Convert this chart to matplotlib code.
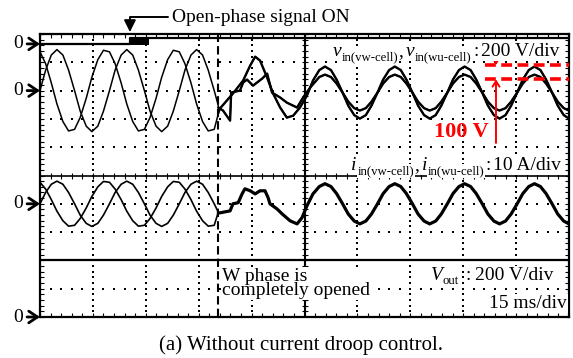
import numpy as np
import matplotlib
matplotlib.use("Agg")
import matplotlib.pyplot as plt

plt.rcParams['font.family'] = ['Liberation Serif', 'DejaVu Serif']

# ---------------- scope settings ----------------
TIME_PER_DIV = 15      # ms/div
V_PER_DIV = 200        # V/div (input cell voltages)
I_PER_DIV = 10         # A/div
VOUT_PER_DIV = 200     # V/div
ZERO_SIG, ZERO_VIN, ZERO_IIN, ZERO_VOUT = 9.65, 8.0, 4.0, 0.0   # zero levels (div)
T_OPEN = 50.5          # ms, W phase completely opened

# ---------------- open-phase signal (div above its zero) ----------------
SIG_T = [0, 25.5, 25.5, 150]
SIG_LEVEL = [0, 0, 0.2, 0.2]
SIG_BURST_T = [25.5, 30.9]

# ---------------- input voltages, before opening ----------------
T_PRE = [0.0, 1.6, 3.2, 4.8, 6.5, 8.1, 9.8, 11.4, 13.1, 14.7, 16.4, 18.0,
         19.7, 21.3, 23.0, 24.6, 26.3, 27.9, 29.6, 31.2, 32.9, 34.5, 36.2, 37.8,
         39.5, 41.1, 42.8, 44.4, 46.1, 47.7, 49.4, 50.5]
VW_PRE = [0, 145, 251, 290, 251, 145, 0, -145, -251, -290, -251, -145,
          0, 145, 251, 290, 251, 145, 0, -145, -251, -290, -251, -145,
          0, 145, 251, 290, 251, 145, 0, -100]
WU_PRE = [274, 190, 55, -94, -219, -285, -274, -190, -55, 94, 219, 285,
          274, 190, 55, -94, -219, -285, -274, -190, -55, 94, 219, 285,
          274, 190, 55, -94, -219, -285, -274, -170]

# ---------------- input currents, before opening ----------------
IVW_PRE = [0, 4.0, 6.9, 8.0, 6.9, 4.0, 0, -4.0, -6.9, -8.0, -6.9, -4.0,
           0, 4.0, 6.9, 8.0, 6.9, 4.0, 0, -4.0, -6.9, -8.0, -6.9, -4.0,
           0, 4.0, 6.9, 8.0, 6.9, 4.0, 0, -2.8]
IWU_PRE = [7.6, 5.2, 1.5, -2.6, -6.0, -7.9, -7.6, -5.2, -1.5, 2.6, 6.0, 7.9,
           7.6, 5.2, 1.5, -2.6, -6.0, -7.9, -7.6, -5.2, -1.5, 2.6, 6.0, 7.9,
           7.6, 5.2, 1.5, -2.6, -6.0, -7.9, -7.6, -3.2]

# ---------------- transient after opening ----------------
T_TR_WU = [50.6, 51.0, 54.7, 57.6, 59.6, 61.0, 62.4, 64.4, 66.1, 68.1, 70.0,
           71.8, 73.7, 75.7, 77.4]
V_TR_WU = [-155, -127, -21, 71, 177, 240, 212, 92, -21, -120, -191,
           -177, -120, -35, 71]
T_TR_VW = [50.6, 51.9, 53.9, 54.2, 56.7, 57.6, 58.7, 60.4, 63.0, 64.4, 65.8,
           68.1, 70.0, 72.9, 74.6, 76.6]
V_TR_VW = [-120, -141, -212, -14, 0, 57, 78, 35, 85, 120, -14,
           -49, -85, -120, -49, 21]
T_TR_I = [50.6, 51.0, 53.9, 54.7, 56.2, 57.3, 58.1, 59.6, 61.0, 62.4, 63.8,
          64.7, 65.2, 67.2, 68.6, 70.9, 72.9, 74.3, 75.7, 77.4]
I_TR = [-3.2, -3.2, -2.5, 0, 0.4, 3.5, 5.3, 4.6, 3.5, 4.6, 4.6,
        2.1, 0, -1.8, -3.5, -6.0, -7.1, -4.9, -0.7, 3.5]

# ---------------- steady state after opening ----------------
T_POST = [79.2, 80.8, 82.5, 84.1, 85.8, 87.4, 89.1, 90.7, 92.4, 94.0, 95.7, 97.3,
          99.0, 100.6, 102.3, 103.9, 105.6, 107.2, 108.9, 110.5, 112.2, 113.8, 115.5,
          117.1, 118.8, 120.4, 122.1, 123.7, 125.4, 127.0, 128.7, 130.3, 132.0,
          133.6, 135.3, 136.9, 138.6, 140.2, 141.9, 143.5, 145.2, 146.8, 148.5, 150.0]
V_BIG_POST = [145, 170, 145, 78, -14, -106, -173, -198, -173, -106, -14, 78,
              145, 170, 145, 78, -14, -106, -173, -198, -173, -106, -14, 78,
              145, 170, 145, 78, -14, -106, -173, -198, -173, -106, -14, 78,
              145, 170, 145, 78, -14, -106, -173, -198]
V_SMALL_POST = [96, 113, 96, 50, -14, -78, -124, -141, -124, -78, -14, 50,
                96, 113, 96, 50, -14, -78, -124, -141, -124, -78, -14, 50,
                96, 113, 96, 50, -14, -78, -124, -141, -124, -78, -14, 50,
                96, 113, 96, 50, -14, -78, -124, -141]
I_POST = [6.1, 7.1, 6.1, 3.6, 0, -3.6, -6.1, -7.1, -6.1, -3.6, 0, 3.6,
          6.1, 7.1, 6.1, 3.6, 0, -3.6, -6.1, -7.1, -6.1, -3.6, 0, 3.6,
          6.1, 7.1, 6.1, 3.6, 0, -3.6, -6.1, -7.1, -6.1, -3.6, 0, 3.6,
          6.1, 7.1, 6.1, 3.6, 0, -3.6, -6.1, -7.1]

# ---------------- output voltage ----------------
VOUT_T = [0, 150]
VOUT = [400, 400]

# ---------------- annotation values ----------------
DIFF_LEVELS = [180, 80]     # V, red dashed lines (100 V difference)
DIFF_T = [126.2, 150]
DIFF_ARROW_T = 129.3

W, H = 573, 358
# =====================================================
fig = plt.figure(figsize=(W / 100, H / 100), dpi=100)
ax = fig.add_axes([40 / W, 1 - 317 / H, 529 / W, 283 / H])
ax.set_xlim(0, 10 * TIME_PER_DIV)
ax.set_ylim(0, 10)

# graticule
minor_x = np.arange(0, 10 * TIME_PER_DIV + 0.01, TIME_PER_DIV / 5)
minor_y = np.arange(0, 10.001, 0.2)
ax.set_xticks(minor_x)
ax.set_yticks(minor_y)
ax.tick_params(direction='in', length=3, width=0.8, top=True, right=True,
               labelbottom=False, labelleft=False)
for s in ax.spines.values():
    s.set_linewidth(1.6)
for k in range(1, 10):
    if k == 5:
        continue
    ax.plot(minor_x, np.full_like(minor_x, k), ls='none', marker='s', ms=1.5,
            mew=0, color='k', zorder=1)
    ax.plot(np.full_like(minor_y, k * TIME_PER_DIV), minor_y, ls='none', marker='s',
            ms=1.5, mew=0, color='k', zorder=1)
ax.axhline(5, color='k', lw=1.2, zorder=1)
ax.axvline(5 * TIME_PER_DIV, color='k', lw=1.5, zorder=1)
ax.plot(minor_x, np.full_like(minor_x, 5), ls='none', marker='|', ms=5, mew=0.8,
        color='k', zorder=1)
ax.plot(np.full_like(minor_y, 5 * TIME_PER_DIV), minor_y, ls='none', marker='_', ms=5,
        mew=0.8, color='k', zorder=1)

# event line
ax.axvline(T_OPEN, color='k', lw=1.5, ls=(0, (4, 2)), zorder=2)

# open-phase signal
ax.plot(SIG_T, ZERO_SIG + np.array(SIG_LEVEL), color='k', lw=1.6, zorder=4)
ax.fill_between(SIG_BURST_T, ZERO_SIG - 0.03, ZERO_SIG + 0.22, color='k', lw=0, zorder=4)

# input voltages
t_vw = T_PRE + T_TR_VW + T_POST
v_vw = VW_PRE + V_TR_VW + V_SMALL_POST
t_wu = T_PRE + T_TR_WU + T_POST
v_wu = WU_PRE + V_TR_WU + V_BIG_POST
for t, v in ((t_vw, v_vw), (t_wu, v_wu)):
    ax.plot(t, ZERO_VIN + np.array(v) / V_PER_DIV, color='k', lw=1.1, zorder=4,
            solid_joinstyle='round')
ax.plot(T_TR_VW + T_POST, ZERO_VIN + np.array(V_TR_VW + V_SMALL_POST) / V_PER_DIV,
        color='k', lw=1.7, zorder=4)
ax.plot(T_TR_WU + T_POST, ZERO_VIN + np.array(V_TR_WU + V_BIG_POST) / V_PER_DIV,
        color='k', lw=1.7, zorder=4)

# input currents
ax.plot(T_PRE, ZERO_IIN + np.array(IVW_PRE) / I_PER_DIV, color='k', lw=1.2, zorder=4)
ax.plot(T_PRE, ZERO_IIN + np.array(IWU_PRE) / I_PER_DIV, color='k', lw=1.2, zorder=4)
ax.plot(T_TR_I + T_POST, ZERO_IIN + np.array(I_TR + I_POST) / I_PER_DIV,
        color='k', lw=2.3, zorder=4, solid_joinstyle='round')

# output voltage
ax.plot(VOUT_T, ZERO_VOUT + np.array(VOUT) / VOUT_PER_DIV, color='k', lw=1.6, zorder=4)

# zero markers
for z in (ZERO_SIG, ZERO_VIN, ZERO_IIN, ZERO_VOUT):
    ax.annotate('0', xy=(0, z), xycoords='data', xytext=(-22, 0),
                textcoords='offset pixels', ha='center', va='center', fontsize=14,
                annotation_clip=False,
                arrowprops=dict(arrowstyle='->,head_length=0.45,head_width=0.3',
                                lw=2, color='k', shrinkA=1, shrinkB=0))

# open-phase signal annotation
ax.annotate('Open-phase signal ON', xy=(25.5, 10.07), xycoords='data',
            xytext=(37.4, 10.6), textcoords='data', ha='left', va='center',
            fontsize=14, annotation_clip=False,
            arrowprops=dict(arrowstyle='-|>,head_length=0.5,head_width=0.25',
                            connectionstyle='angle,angleA=0,angleB=90,rad=0',
                            relpos=(0, 0.5), lw=1.4, color='k', shrinkA=1, shrinkB=0))

# ---------- rich labels laid out piece by piece (pixel coordinates) ----------
renderer = fig.canvas.get_renderer()


def rich_label(x_right, y_base, pieces):
    """pieces: (text, fontsize, style, baseline shift px, gap after px)"""
    arts, widths = [], []
    for s, fs, st, dy, gap in pieces:
        t = fig.text(0, 0, s, fontsize=fs, style=st, va='baseline', ha='left', zorder=6,
                     bbox=dict(fc='white', ec='none', pad=0.5))
        arts.append(t)
        widths.append(t.get_window_extent(renderer).width)
    total = sum(widths) + sum(p[4] for p in pieces)
    x = x_right - total
    for t, w, p in zip(arts, widths, pieces):
        t.set_position((x / W, 1 - (y_base - p[3]) / H))
        x += w + p[4]


SUB = 9.2
rich_label(559, 56, [('v', 14, 'italic', 0, 0.5), ('in(vw-cell)', SUB, 'normal', -4, 0),
                     (',', 14, 'normal', 0, 3), ('v', 14, 'italic', 0, 0.5),
                     ('in(wu-cell)', SUB, 'normal', -4, 1.5), (':', 14, 'normal', 0, 2),
                     ('200 V/div', 14, 'normal', 0, 0)])
rich_label(561, 170, [('i', 14, 'italic', 0, 0.5), ('in(vw-cell)', SUB, 'normal', -4, 0),
                      (',', 14, 'normal', 0, 3), ('i', 14, 'italic', 0, 0.5),
                      ('in(wu-cell)', SUB, 'normal', -4, 1.5), (':', 14, 'normal', 0, 2),
                      ('10 A/div', 14, 'normal', 0, 0)])
rich_label(553, 280, [('V', 14, 'italic', 0, 0.5), ('out', SUB, 'normal', -4, 6),
                      (':', 14, 'normal', 0, 4), ('200 V/div', 14, 'normal', 0, 0)])

box = dict(fc='white', ec='none', pad=0.6)
ax.text(149.5, 0.32, '15 ms/div', ha='right', va='baseline', fontsize=14, bbox=box,
        zorder=3)
ax.text(51.6, 0.78, 'W phase is\ncompletely opened', ha='left', va='baseline',
        fontsize=14, linespacing=0.78, bbox=box, zorder=3)

# red 100 V marker
for lv in DIFF_LEVELS:
    ax.plot(DIFF_T, [ZERO_VIN + lv / V_PER_DIV] * 2, color='red', lw=2.6,
            ls=(0, (3, 1.5)), zorder=5)
ax.annotate('', xy=(DIFF_ARROW_T, ZERO_VIN + DIFF_LEVELS[1] / V_PER_DIV),
            xytext=(DIFF_ARROW_T, 6.15),
            arrowprops=dict(arrowstyle='->,head_length=0.4,head_width=0.25', color='red',
                            lw=1.4, shrinkA=0, shrinkB=0), zorder=5)
ax.annotate('', xy=(DIFF_ARROW_T, ZERO_VIN + DIFF_LEVELS[0] / V_PER_DIV),
            xytext=(DIFF_ARROW_T, 9.2),
            arrowprops=dict(arrowstyle='->,head_length=0.4,head_width=0.25', color='red',
                            lw=1.4, shrinkA=0, shrinkB=0), zorder=5)
ax.text(127.3, 6.54, '100 V', color='red', fontweight='bold', fontsize=16,
        ha='right', va='center', zorder=5)

fig.text(301 / W, 1 - 345 / H, '(a) Without current droop control.',
         ha='center', va='center', fontsize=15)

fig.savefig('out.png', dpi=100)
